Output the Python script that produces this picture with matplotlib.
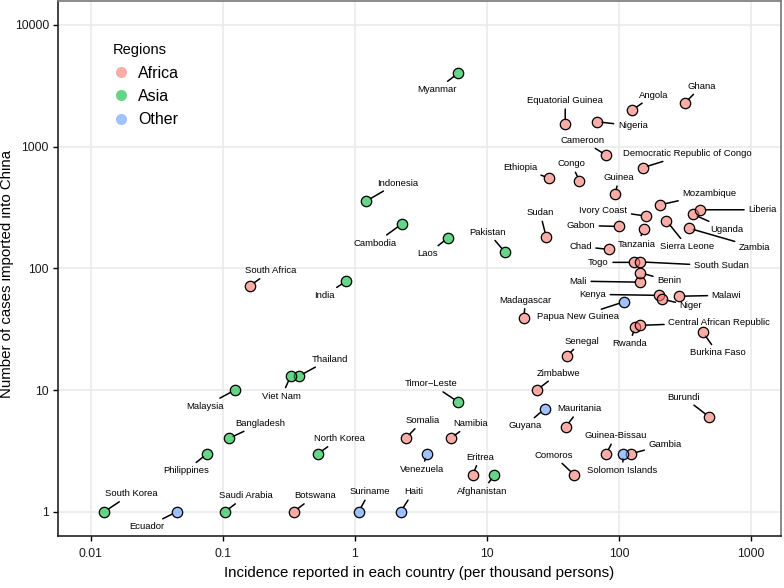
import numpy as np
import matplotlib
matplotlib.use("Agg")
import matplotlib.pyplot as plt
from matplotlib.lines import Line2D
from matplotlib.ticker import FixedLocator, FuncFormatter, NullLocator

plt.rcParams['font.family'] = ['Liberation Sans', 'DejaVu Sans']

# data: country, incidence (per thousand), imported cases
africa_names = ["South Africa", "Botswana", "Somalia", "Namibia", "Eritrea", "Comoros",
                "Zimbabwe", "Senegal", "Madagascar", "Mauritania", "Guinea-Bissau", "Gambia",
                "Burundi", "Burkina Faso", "Rwanda", "Central African Republic", "Kenya",
                "Niger", "Malawi", "Mali", "Benin", "Togo", "South Sudan", "Chad", "Gabon",
                "Tanzania", "Ivory Coast", "Sierra Leone", "Zambia", "Uganda", "Liberia",
                "Mozambique", "Guinea", "Congo", "Ethiopia", "Sudan", "Cameroon",
                "Democratic Republic of Congo", "Equatorial Guinea", "Nigeria", "Angola", "Ghana"]
africa_x = [0.161, 0.345, 2.43, 5.31, 7.83, 46.0, 23.9, 40.3, 19.0, 39.6, 80.4, 123.7,
            484, 430, 133, 145, 200, 211, 287, 145, 145, 129, 145, 84.7, 99.8,
            155, 161, 229, 337, 361, 414, 206, 93.5, 50.2, 29.8, 28.1, 80.4,
            151, 39.2, 67.9, 126.5, 315]
africa_y = [72, 1, 4, 4, 2, 2, 10, 19, 39, 5, 3, 3,
            6, 30, 33, 34, 60, 56, 59, 77, 92, 112, 113, 143, 221,
            210, 269, 246, 214, 279, 303, 333, 405, 525, 549, 182, 848,
            671, 1524, 1602, 2000, 2281]

asia_names = ["Myanmar", "Indonesia", "Cambodia", "Laos", "Pakistan", "India", "Thailand",
              "Viet Nam", "Malaysia", "Bangladesh", "Philippines", "North Korea",
              "South Korea", "Saudi Arabia", "Timor\u2212Leste", "Afghanistan"]
asia_x = [6.04, 1.22, 2.26, 5.07, 13.7, 0.853, 0.377, 0.327, 0.124, 0.111, 0.0762, 0.527,
          0.0127, 0.104, 6.04, 11.4]
asia_y = [4000, 357, 231, 178, 136, 78, 13, 13, 10, 4, 3, 3, 1, 1, 8, 2]

other_names = ["Ecuador", "Suriname", "Haiti", "Venezuela", "Guyana", "Papua New Guinea",
               "Solomon Islands"]
other_x = [0.045, 1.07, 2.22, 3.52, 27.4, 108.6, 108]
other_y = [1, 1, 1, 3, 7, 53, 3]

x_ticks = [0.01, 0.1, 1, 10, 100, 1000]
y_ticks = [1, 10, 100, 1000, 10000]

# label placement (pixel offsets from the point, like ggrepel)
label_offsets = {
    "Myanmar": (-21, -16), "Indonesia": (31, 18), "Cambodia": (-26, -19), "Laos": (-20, -16),
    "Pakistan": (-17, 20), "India": (-21, -14), "South Africa": (21, 15), "Thailand": (31, 17),
    "Viet Nam": (-9, -20), "Malaysia": (-30, -16), "Bangladesh": (32, 15),
    "Philippines": (-21, -17), "North Korea": (21, 15), "South Korea": (27, 18),
    "Ecuador": (-30, -15), "Saudi Arabia": (21, 16), "Botswana": (21, 16), "Suriname": (11, 20),
    "Haiti": (13, 20), "Venezuela": (-5, -16), "Somalia": (17, 18), "Namibia": (20, 15),
    "Eritrea": (7, 18), "Afghanistan": (-12, -16), "Timor\u2212Leste": (-27, 18),
    "Guyana": (-20, -17), "Zimbabwe": (22, 17), "Senegal": (15, 15), "Madagascar": (2, 18),
    "Papua New Guinea": (-46, -15), "Mauritania": (14, 18), "Guinea-Bissau": (9, 18),
    "Gambia": (34, 9), "Solomon Islands": (-1, -17), "Comoros": (-21, 20), "Burundi": (-26, 20),
    "Burkina Faso": (15, -21), "Rwanda": (-6, -17), "Central African Republic": (79, 3),
    "Kenya": (-66, 1), "Niger": (29, -7), "Malawi": (47, 1), "Mali": (-62, 1), "Benin": (29, -8),
    "Togo": (-35, 0), "South Sudan": (81, -4), "Chad": (-29, 3), "Gabon": (-38, 1),
    "Tanzania": (-7, -15), "Ivory Coast": (-43, 6), "Sierra Leone": (21, -26),
    "Zambia": (66, -19), "Uganda": (34, -15), "Liberia": (62, 0), "Mozambique": (49, 11),
    "Guinea": (4, 17), "Congo": (-8, 17), "Ethiopia": (-29, 11), "Sudan": (-6, 24),
    "Cameroon": (-24, 15), "Democratic Republic of Congo": (45, 14),
    "Equatorial Guinea": (0, 24), "Nigeria": (36, -4), "Angola": (21, 15), "Ghana": (17, 17),
}

colors = {"Africa": (0.973, 0.463, 0.427, 0.6),
          "Asia": (0.0, 0.729, 0.220, 0.6),
          "Other": (0.380, 0.612, 1.0, 0.6)}

fig = plt.figure(figsize=(7.84, 5.88), dpi=100)
ax = fig.add_axes([58 / 784, 1 - 535.7 / 588, (781 - 58) / 784, (535.7 - 1) / 588])

groups = [("Africa", africa_names, africa_x, africa_y),
          ("Asia", asia_names, asia_x, asia_y),
          ("Other", other_names, other_x, other_y)]

for region, names, xs, ys in groups:
    ax.scatter(xs, ys, s=56, facecolor=colors[region], edgecolor='black',
               linewidth=0.9, zorder=4)
    for n, x, y in zip(names, xs, ys):
        dx, dy = label_offsets[n]
        ax.annotate(n, (x, y), xytext=(dx, dy), textcoords='offset pixels',
                    ha='center', va='center', fontsize=6.8, color='black', zorder=3,
                    arrowprops=dict(arrowstyle='-', color='black', lw=1.1,
                                    shrinkA=1, shrinkB=3.5))

ax.set_xscale('log')
ax.set_yscale('log')
ax.set_xlim(10 ** -2.247, 10 ** 3.227)
ax.set_ylim(10 ** -0.197, 10 ** 4.197)

ax.xaxis.set_major_locator(FixedLocator(x_ticks))
ax.yaxis.set_major_locator(FixedLocator(y_ticks))
ax.xaxis.set_minor_locator(NullLocator())
ax.yaxis.set_minor_locator(NullLocator())
fmt = FuncFormatter(lambda v, p: '{:g}'.format(v))
ax.xaxis.set_major_formatter(fmt)
ax.yaxis.set_major_formatter(fmt)
ax.tick_params(axis='both', which='major', direction='out', length=3.5, width=1,
               color='black', labelsize=8.8, labelcolor='#1a1a1a', pad=3)
ax.tick_params(axis='x', pad=5.5)

ax.grid(True, which='major', color='#EBEBEB', lw=1.2, zorder=0)
ax.set_axisbelow(True)
for side in ['left', 'bottom']:
    ax.spines[side].set_color('#222222')
    ax.spines[side].set_linewidth(1.2)
for side in ['top', 'right']:
    ax.spines[side].set_color('#777777')
    ax.spines[side].set_linewidth(1.2)

ax.set_xlabel('Incidence reported in each country (per thousand persons)', fontsize=10.8)
ax.set_ylabel('Number of cases imported into China', fontsize=10.8)
ax.xaxis.set_label_coords(0.5, -0.057)
ax.yaxis.set_label_coords(-0.061, 0.49)

handles = [Line2D([], [], marker='o', linestyle='none', markersize=8,
                  markerfacecolor=colors[r], markeredgecolor='none', label=r)
           for r in ["Africa", "Asia", "Other"]]
leg = ax.legend(handles=handles, title='Regions', loc='upper left',
                bbox_to_anchor=(0.06, 0.942), frameon=False, fontsize=11.5,
                title_fontsize=10.5, handlelength=1.0, handletextpad=0.6,
                labelspacing=0.52, borderpad=0.2)
leg._legend_box.align = 'left'
leg._legend_box.sep = 6

fig.savefig('out.png', dpi=100)
